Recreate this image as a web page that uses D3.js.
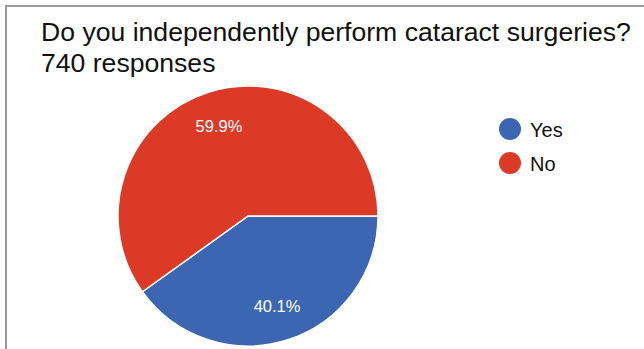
<!DOCTYPE html>
<html>
<head>
<meta charset="utf-8">
<script src="https://cdn.jsdelivr.net/npm/d3@7"></script>
<style>
  html, body { margin: 0; padding: 0; background: #fff; }
  svg { display: block; font-family: "Liberation Sans", Arial, sans-serif; }
</style>
</head>
<body>
<div id="chart"></div>
<script>
// Chart data
const categories = ["Yes", "No"];
const percents = [40.1, 59.9];
const colors = ["#3c66b1", "#dc3a26"];
const title = "Do you independently perform cataract surgeries?";
const subtitle = "740 responses";

const width = 644, height = 349;
const cx = 248, cy = 216, radius = 130;

const svg = d3.select("#chart")
    .append("svg")
    .attr("width", width)
    .attr("height", height);

// frame (only top and left edges are visible in the crop)
svg.append("path")
    .attr("d", `M6,${height} V6 H${width}`)
    .attr("fill", "none")
    .attr("stroke", "#9a9a9a")
    .attr("stroke-width", 2);

// Title lines
svg.append("text")
    .attr("x", 41)
    .attr("y", 41)
    .style("font-size", "26.6px")
    .attr("fill", "#111")
    .text(title);

svg.append("text")
    .attr("x", 41)
    .attr("y", 72)
    .style("font-size", "26.6px")
    .attr("fill", "#111")
    .text(subtitle);

// Pie
const pie = d3.pie()
    .sort(null)
    .value(d => d)
    .startAngle(Math.PI / 2)
    .endAngle(Math.PI / 2 + 2 * Math.PI);

const arcs = pie(percents);
const arc = d3.arc().innerRadius(0).outerRadius(radius);
const labelArc = d3.arc().innerRadius(95).outerRadius(95);

const g = svg.append("g").attr("transform", `translate(${cx},${cy})`);

g.selectAll("path.slice")
    .data(arcs)
    .join("path")
    .attr("class", "slice")
    .attr("d", arc)
    .attr("fill", (d, i) => colors[i])
    .attr("stroke", "#fff")
    .attr("stroke-width", 1.5);

g.selectAll("text.pct")
    .data(arcs)
    .join("text")
    .attr("class", "pct")
    .attr("transform", d => `translate(${labelArc.centroid(d)})`)
    .attr("text-anchor", "middle")
    .attr("dy", "0.36em")
    .style("font-size", "16.5px")
    .attr("fill", "#fff")
    .text((d, i) => percents[i].toFixed(1) + "%");

// Legend
const legend = svg.append("g")
    .selectAll("g")
    .data(categories)
    .join("g")
    .attr("transform", (d, i) => `translate(510, ${129 + i * 34})`);

legend.append("circle")
    .attr("r", 11)
    .attr("fill", (d, i) => colors[i]);

legend.append("text")
    .attr("x", 20)
    .attr("y", 8)
    .style("font-size", "20px")
    .attr("fill", "#111")
    .text(d => d);
</script>
</body>
</html>
